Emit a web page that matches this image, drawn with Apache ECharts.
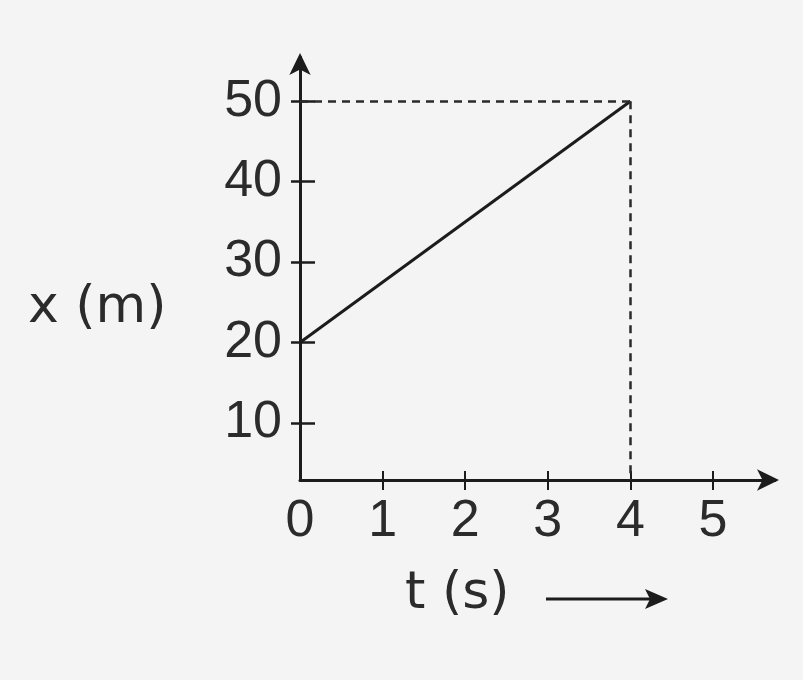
<!DOCTYPE html>
<html>
<head>
<meta charset="utf-8">
<script src="https://cdn.jsdelivr.net/npm/echarts@6/dist/echarts.min.js"></script>
<style>
  html, body { margin: 0; padding: 0; background: #f4f4f4; }
  #chart { width: 803px; height: 680px; }
</style>
</head>
<body>
<div id="chart"></div>
<script>
// Position–time data: x (m) against t (s)
const timeValues = [0, 4];
const positionValues = [20, 50];
const timeTickLabels = [0, 1, 2, 3, 4, 5];
const timeTickMarks = [1, 2, 3, 4, 5];
const positionTickLabels = [10, 20, 30, 40, 50];
const guideTime = 4;
const guidePosition = 50;

// axis extents (the time axis sits a little above x = 0)
const X_MIN = 2.9, X_MAX = 55.5;
const T_MIN = 0, T_MAX = 5.75;

const ink = '#1c1c1c';
const labelFont = 'Liberation Sans';

const chart = echarts.init(document.getElementById('chart'), null, { renderer: 'canvas' });

const linePoints = timeValues.map((t, i) => [t, positionValues[i]]);

const option = {
  backgroundColor: '#f4f4f4',
  animation: false,
  grid: { left: 300, right: 28, top: 57, bottom: 200, containLabel: false },
  xAxis: [
    {
      type: 'value', min: T_MIN, max: T_MAX, position: 'bottom',
      axisLine: { onZero: false, symbol: ['none', 'arrow'], symbolSize: [16, 22], symbolOffset: [0, 4],
        lineStyle: { color: ink, width: 3 } },
      axisTick: { show: true, customValues: timeTickMarks, length: 10, lineStyle: { color: ink, width: 2 } },
      axisLabel: { customValues: timeTickLabels, fontSize: 52, fontFamily: labelFont, color: '#2b2b2b', margin: 16 },
      splitLine: { show: false }
    },
    {
      type: 'value', min: T_MIN, max: T_MAX, position: 'bottom',
      axisLine: { show: false, onZero: false },
      axisTick: { show: true, inside: true, customValues: timeTickMarks, length: 9, lineStyle: { color: ink, width: 2 } },
      axisLabel: { show: false },
      splitLine: { show: false }
    }
  ],
  yAxis: [
    {
      type: 'value', min: X_MIN, max: X_MAX, position: 'left',
      axisLine: { show: true, onZero: false, symbol: ['none', 'arrow'], symbolSize: [16, 22], symbolOffset: [0, 4],
        lineStyle: { color: ink, width: 3 } },
      axisTick: { show: true, customValues: positionTickLabels, length: 9, lineStyle: { color: ink, width: 2.5 } },
      axisLabel: { customValues: positionTickLabels, fontSize: 52, fontFamily: labelFont, color: '#2b2b2b', margin: 18 },
      splitLine: { show: false }
    },
    {
      type: 'value', min: X_MIN, max: X_MAX, position: 'left',
      axisLine: { show: false, onZero: false },
      axisTick: { show: true, inside: true, customValues: positionTickLabels, length: 15, lineStyle: { color: ink, width: 2.5 } },
      axisLabel: { show: false },
      splitLine: { show: false }
    }
  ],
  series: [
    {
      type: 'line',
      xAxisIndex: 0, yAxisIndex: 0,
      data: linePoints,
      symbol: 'none',
      lineStyle: { color: ink, width: 3 },
      markLine: {
        silent: true,
        symbol: 'none',
        label: { show: false },
        lineStyle: { color: '#2a2a2a', width: 2.5, type: [8, 6] },
        data: [
          [{ coord: [0, guidePosition] }, { coord: [guideTime, guidePosition] }],
          [{ coord: [guideTime, guidePosition] }, { coord: [guideTime, X_MIN] }]
        ]
      }
    }
  ],
  graphic: [
    {
      type: 'text', left: 28, top: 282,
      style: { text: 'x (m)', font: '52px "DejaVu Sans"', fill: '#2b2b2b' }
    },
    {
      type: 'text', left: 405, top: 568,
      style: { text: 't (s)', font: '52px "DejaVu Sans"', fill: '#2b2b2b' }
    },
    {
      type: 'line', shape: { x1: 546, y1: 599, x2: 655, y2: 599 },
      style: { stroke: ink, lineWidth: 3 }
    },
    {
      type: 'polygon', shape: { points: [[668, 599], [645, 589], [650, 599], [645, 609]] },
      style: { fill: ink }
    }
  ]
};

chart.setOption(option);
</script>
</body>
</html>
